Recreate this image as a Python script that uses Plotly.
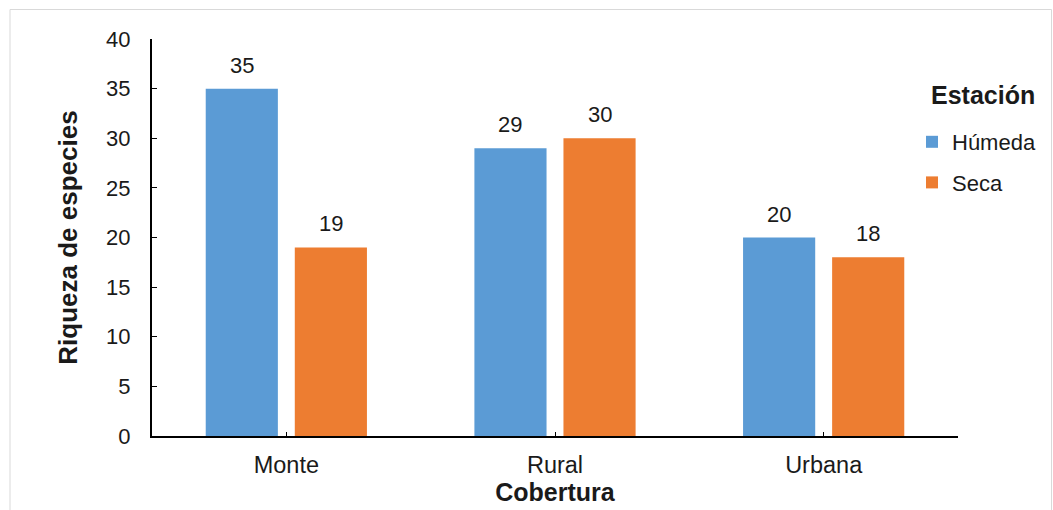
import plotly.graph_objects as go

# Species richness per land cover, by season
coberturas = ["Monte", "Rural", "Urbana"]
humeda = [35, 29, 20]
seca = [19, 30, 18]
series_names = ["Húmeda", "Seca"]
y_ticks = [0, 5, 10, 15, 20, 25, 30, 35, 40]

FONT = "Liberation Sans, Arial, sans-serif"
BLUE = "#5B9BD5"
ORANGE = "#ED7D31"
TEXT = "#1a1a1a"

BARGAP = 0.337
GROUPGAP = 0.19

W, H = 1053, 510
ML, MR, MT, MB = 152, 95, 39, 74
plot_w = W - ML - MR
plot_h = H - MT - MB

fig = go.Figure()
for name, vals, color in [(series_names[0], humeda, BLUE), (series_names[1], seca, ORANGE)]:
    fig.add_trace(go.Bar(
        x=coberturas, y=vals, name=name, marker_color=color,
        marker_line_width=0, legendgroup=name,
    ))

# value labels above each bar, placed via the category axis scale
slot = (1 - BARGAP) / 2
for k, vals in enumerate([humeda, seca]):
    offset = (k - 0.5) * slot
    for i, v in enumerate(vals):
        fig.add_annotation(
            x=i + offset, y=v, text=str(v), showarrow=False,
            xref="x", yref="y", yanchor="bottom", yshift=9,
            font=dict(family=FONT, size=22, color=TEXT),
        )

# legend heading
fig.add_annotation(
    x=(929 - ML) / plot_w, y=(H - MB - 95) / plot_h, xref="paper", yref="paper",
    text="<b>Estación</b>", showarrow=False, xanchor="left", yanchor="middle",
    font=dict(family=FONT, size=25, color=TEXT),
)

# light outer frame of the chart area
fig.add_shape(
    type="rect", xref="paper", yref="paper",
    x0=(10 - ML) / plot_w, x1=(W - 1.5 - ML) / plot_w,
    y0=-(H + 10 - MT - plot_h) / plot_h, y1=(plot_h + MT - 9.5) / plot_h,
    line=dict(color="#d9d9d9", width=1), fillcolor="rgba(0,0,0,0)", layer="below",
)

fig.update_layout(
    width=W, height=H,
    margin=dict(l=ML, r=MR, t=MT, b=MB, pad=0, autoexpand=False),
    paper_bgcolor="white", plot_bgcolor="white",
    barmode="group", bargap=BARGAP, bargroupgap=GROUPGAP,
    font=dict(family=FONT, size=22, color=TEXT),
    legend=dict(
        xref="container", yref="container",
        x=912 / W, xanchor="left", y=1 - 121 / H, yanchor="top",
        font=dict(family=FONT, size=22, color=TEXT),
        tracegroupgap=9, bgcolor="rgba(0,0,0,0)",
    ),
    xaxis=dict(
        showline=True, linecolor="black", linewidth=2,
        ticks="inside", ticklen=4, tickwidth=1, tickcolor="black",
        tickfont=dict(family=FONT, size=23.5, color=TEXT),
        ticklabelstandoff=7, automargin=False,
        title=dict(text="<b>Cobertura</b>", font=dict(family=FONT, size=25, color=TEXT), standoff=6),
        showgrid=False, zeroline=False,
    ),
    yaxis=dict(
        range=[0, 40], tickvals=y_ticks,
        showline=True, linecolor="black", linewidth=2,
        ticks="inside", ticklen=5, tickwidth=1, tickcolor="black",
        tickfont=dict(family=FONT, size=22, color=TEXT),
        ticklabelstandoff=15, automargin=False,
        title=dict(text="<b>Riqueza de especies</b>", font=dict(family=FONT, size=26, color=TEXT), standoff=21),
        showgrid=False, zeroline=False,
    ),
)

fig.write_html("out.html")
